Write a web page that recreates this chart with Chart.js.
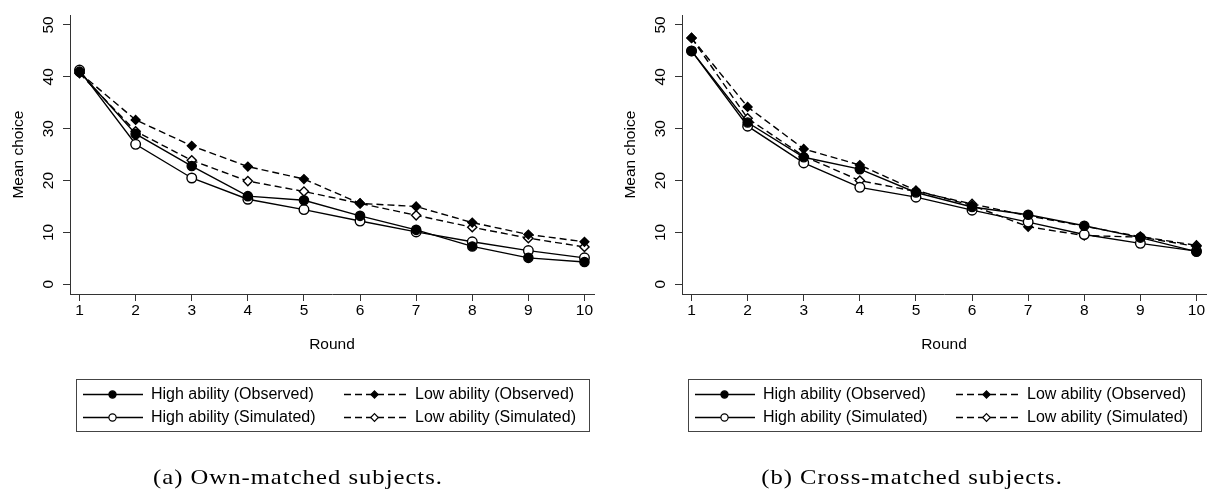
<!DOCTYPE html>
<html>
<head>
<meta charset="utf-8">
<script src="https://cdn.jsdelivr.net/npm/chart.js@4.4.1/dist/chart.umd.min.js"></script>
<style>
  body { margin: 0; background: #fff; }
  .panel { position: absolute; top: 0; width: 607px; height: 493px; }
</style>
</head>
<body>
<div class="panel" style="left:0"><canvas id="own" width="607" height="493"></canvas></div>
<div class="panel" style="left:607px"><canvas id="cross" width="607" height="493"></canvas></div>
<script>
const rounds = [1, 2, 3, 4, 5, 6, 7, 8, 9, 10];
const yTicks = [0, 10, 20, 30, 40, 50];
const seriesNames = ['High ability (Observed)', 'High ability (Simulated)', 'Low ability (Observed)', 'Low ability (Simulated)'];

// (a) own-matched
const ownHighObs = [41.0, 29.0, 22.8, 17.0, 16.2, 13.2, 10.5, 7.3, 5.1, 4.3];
const ownHighSim = [41.3, 27.0, 20.5, 16.4, 14.4, 12.2, 10.1, 8.2, 6.5, 5.1];
const ownLowObs  = [40.8, 31.7, 26.7, 22.7, 20.3, 15.6, 15.0, 11.9, 9.6, 8.2];
const ownLowSim  = [40.7, 29.5, 23.9, 19.9, 17.9, 15.6, 13.3, 11.0, 8.9, 7.2];

// (b) cross-matched
const crossHighObs = [45.0, 31.2, 24.5, 22.2, 17.7, 14.9, 13.4, 11.3, 9.0, 6.3];
const crossHighSim = [45.0, 30.5, 23.4, 18.7, 16.8, 14.3, 12.0, 9.6, 7.9, 6.4];
const crossLowObs  = [47.5, 34.2, 26.1, 23.0, 18.1, 15.2, 11.1, 9.4, 9.1, 7.3];
const crossLowSim  = [47.5, 32.0, 24.7, 20.0, 17.9, 15.5, 13.2, 11.2, 9.2, 7.5];

const SANS = "'Liberation Sans', Arial, sans-serif";
const AXIS = '#333';
const DASH = [7, 4];

// line + marker look of each series, shared by plot and legend
const styles = [
  { dash: [], shape: 'circle', r: 4.6, fill: '#000', lr: 3.6 },
  { dash: [], shape: 'circle', r: 4.8, fill: '#fff', lr: 3.6 },
  { dash: DASH, shape: 'rectRot', r: 4.4, fill: '#000', lr: 3.6 },
  { dash: DASH, shape: 'rectRot', r: 4.6, fill: '#fff', lr: 3.8 }
];

function makeDatasets(series) {
  return series.map((vals, i) => ({
    label: seriesNames[i],
    data: rounds.map((r, k) => ({ x: r, y: vals[k] })),
    borderColor: '#000',
    borderWidth: 1.4,
    borderDash: styles[i].dash,
    pointStyle: styles[i].shape,
    pointRadius: styles[i].r,
    pointBackgroundColor: styles[i].fill,
    pointBorderColor: '#000',
    pointBorderWidth: 1.4,
    tension: 0,
    fill: false
  }));
}

// framed two-column legend under the axis, plus the subfigure caption
const boxLegend = {
  id: 'boxLegend',
  afterDraw(chart, args, opts) {
    const ctx = chart.ctx;
    const a = chart.chartArea;
    const bx = Math.round(a.left + 6), by = 379, bw = 513, bh = 52;
    ctx.save();
    ctx.strokeStyle = '#444';
    ctx.lineWidth = 1;
    ctx.setLineDash([]);
    ctx.strokeRect(bx + 0.5, by + 0.5, bw, bh);

    const cols = [{ x0: 7, x1: 67, m: 36.5, t: 75 }, { x0: 268, x1: 330, m: 298.5, t: 339 }];
    const rows = [15.5, 38.5];
    const slots = [[0, 0], [0, 1], [1, 0], [1, 1]];
    ctx.font = '16px ' + SANS;
    ctx.textBaseline = 'middle';
    chart.data.datasets.forEach((ds, i) => {
      const c = cols[slots[i][0]], y = by + rows[slots[i][1]];
      const mx = bx + c.m, r = styles[i].lr;
      ctx.strokeStyle = '#000';
      ctx.lineWidth = 1.3;
      ctx.setLineDash(styles[i].dash);
      ctx.beginPath();
      ctx.moveTo(bx + c.x0, y);
      ctx.lineTo(bx + c.x1, y);
      ctx.stroke();
      ctx.setLineDash([]);
      ctx.fillStyle = styles[i].fill;
      ctx.lineWidth = 1.2;
      ctx.beginPath();
      if (styles[i].shape === 'circle') {
        ctx.arc(mx, y, r, 0, Math.PI * 2);
      } else {
        ctx.moveTo(mx, y - r); ctx.lineTo(mx + r, y);
        ctx.lineTo(mx, y + r); ctx.lineTo(mx - r, y);
        ctx.closePath();
      }
      ctx.fill();
      ctx.stroke();
      ctx.fillStyle = '#000';
      ctx.fillText(ds.label, bx + c.t, y + 0.5);
    });

    // caption in a wide roman face
    ctx.font = "22px 'Liberation Serif', 'Times New Roman', serif";
    ctx.letterSpacing = '0.9px';
    ctx.textAlign = 'center';
    ctx.textBaseline = 'alphabetic';
    ctx.translate(opts.captionX, 484);
    ctx.scale(1.12, 1);
    ctx.fillText(opts.caption, 0, 0);
    ctx.restore();
  }
};

function makeChart(id, series, yWidth, titlePad, rightPad, caption, captionX) {
  const tickGrid = { display: true, drawOnChartArea: false, drawTicks: true, tickLength: 7, color: AXIS, lineWidth: 1 };
  const labelFont = { family: SANS, size: 15.5 };
  return new Chart(document.getElementById(id), {
    type: 'line',
    data: { datasets: makeDatasets(series) },
    plugins: [boxLegend],
    options: {
      responsive: false,
      animation: false,
      events: [],
      layout: { padding: { top: 7, right: rightPad, bottom: 139, left: 0 } },
      plugins: {
        legend: { display: false },
        tooltip: { enabled: false },
        boxLegend: { caption: caption, captionX: captionX }
      },
      scales: {
        x: {
          type: 'linear',
          min: 0.83,
          max: 10.17,
          afterBuildTicks: s => { s.ticks = rounds.map(v => ({ value: v })); },
          afterFit: s => { s.height = 60; },
          ticks: { color: '#000', font: labelFont, padding: 0, autoSkip: false, maxRotation: 0 },
          grid: tickGrid,
          border: { display: true, color: AXIS, width: 1 },
          title: { display: true, text: 'Round', color: '#000', font: labelFont, padding: { top: 0, bottom: 0 } }
        },
        y: {
          min: -1.87,
          max: 51.87,
          afterBuildTicks: s => { s.ticks = yTicks.map(v => ({ value: v })); },
          afterFit: s => { s.width = yWidth; },
          ticks: { color: '#000', font: labelFont, padding: 6, minRotation: 90, maxRotation: 90, crossAlign: 'center' },
          grid: tickGrid,
          border: { display: true, color: AXIS, width: 1 },
          title: { display: true, text: 'Mean choice', color: '#000', font: labelFont, padding: { top: titlePad, bottom: 0 } }
        }
      }
    }
  });
}

makeChart('own', [ownHighObs, ownHighSim, ownLowObs, ownLowSim], 70, 9, 13,
  '(a) Own-matched subjects.', 298);
makeChart('cross', [crossHighObs, crossHighSim, crossLowObs, crossLowSim], 75, 14, 8,
  '(b) Cross-matched subjects.', 305);
</script>
</body>
</html>
